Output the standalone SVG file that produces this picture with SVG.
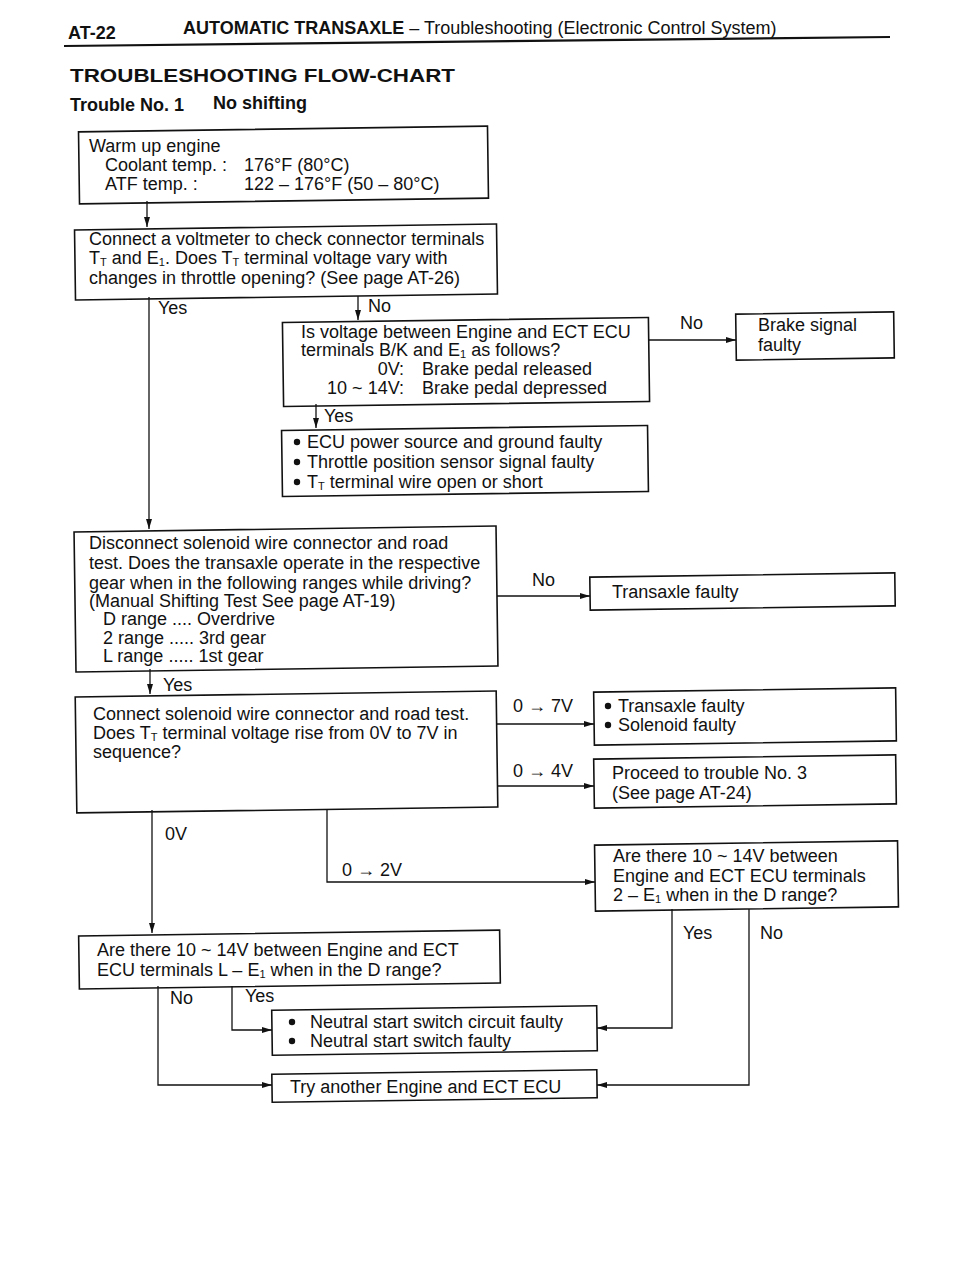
<svg xmlns="http://www.w3.org/2000/svg" width="960" height="1280" viewBox="0 0 960 1280">
<style>
.t{font-family:"Liberation Sans",Arial,Helvetica,sans-serif;font-size:18px;fill:#111}
.b{font-weight:bold}
.box{fill:none;stroke:#111;stroke-width:1.6}
.ln{fill:none;stroke:#111;stroke-width:1.3}
.s{font-size:11px}
</style>
<defs>
<marker id="ar" viewBox="0 0 10 6" refX="10" refY="3" markerWidth="10" markerHeight="6" markerUnits="userSpaceOnUse" orient="auto">
<path d="M0,0 L10,3 L0,6 z" fill="#111"/>
</marker>
</defs>
<rect width="960" height="1280" fill="#fff"/>
<g id="header">
<text class="t b" x="68" y="39" font-size="16">AT-22</text>
<text class="t" x="183" y="34" font-size="17"><tspan class="b">AUTOMATIC TRANSAXLE</tspan> – Troubleshooting (Electronic Control System)</text>
<line x1="64" y1="46" x2="890" y2="37" stroke="#111" stroke-width="2.2"/>
<text class="t b" x="70" y="82" font-size="24" textLength="385" lengthAdjust="spacingAndGlyphs">TROUBLESHOOTING FLOW-CHART</text>
<text class="t b" x="70" y="111" font-size="14.5">Trouble No. 1</text>
<text class="t b" x="213" y="109" font-size="15">No shifting</text>
</g>
<g id="connectors">
<line class="ln" x1="147" y1="201" x2="147" y2="227" marker-end="url(#ar)"/>
<line class="ln" x1="149" y1="297" x2="149" y2="529" marker-end="url(#ar)"/>
<line class="ln" x1="358" y1="296" x2="358" y2="320" marker-end="url(#ar)"/>
<line class="ln" x1="649" y1="340" x2="736" y2="340" marker-end="url(#ar)"/>
<line class="ln" x1="316" y1="404" x2="316" y2="428" marker-end="url(#ar)"/>
<line class="ln" x1="497" y1="596" x2="590" y2="596" marker-end="url(#ar)"/>
<line class="ln" x1="150" y1="669" x2="150" y2="694" marker-end="url(#ar)"/>
<line class="ln" x1="497" y1="724" x2="594" y2="724" marker-end="url(#ar)"/>
<line class="ln" x1="497" y1="786" x2="594" y2="786" marker-end="url(#ar)"/>
<line class="ln" x1="152" y1="810" x2="152" y2="933" marker-end="url(#ar)"/>
<polyline class="ln" points="327,810 327,882 595,882" marker-end="url(#ar)"/>
<polyline class="ln" points="672,909 672,1028 597,1028" marker-end="url(#ar)"/>
<polyline class="ln" points="749,909 749,1085 597,1085" marker-end="url(#ar)"/>
<polyline class="ln" points="158,986 158,1085 272,1085" marker-end="url(#ar)"/>
<polyline class="ln" points="232,986 232,1030 272,1030" marker-end="url(#ar)"/>
<text class="t" x="158" y="314">Yes</text>
<text class="t" x="368" y="312">No</text>
<text class="t" x="680" y="329">No</text>
<text class="t" x="324" y="422">Yes</text>
<text class="t" x="532" y="586">No</text>
<text class="t" x="163" y="691">Yes</text>
<text class="t" x="513" y="712">0 → 7V</text>
<text class="t" x="513" y="777">0 → 4V</text>
<text class="t" x="165" y="840">0V</text>
<text class="t" x="342" y="876">0 → 2V</text>
<text class="t" x="683" y="939">Yes</text>
<text class="t" x="760" y="939">No</text>
<text class="t" x="170" y="1004">No</text>
<text class="t" x="245" y="1002">Yes</text>
</g>
<g id="warmup">
<rect class="box" x="79" y="129" width="409" height="72" transform="rotate(-0.8 283 165)"/>
<text class="t" x="89" y="152">Warm up engine</text>
<text class="t" x="105" y="171">Coolant temp. :</text>
<text class="t" x="244" y="171">176°F (80°C)</text>
<text class="t" x="105" y="190">ATF temp. :</text>
<text class="t" x="244" y="190">122 – 176°F (50 – 80°C)</text>
</g>
<g id="voltmeter">
<rect class="box" x="75" y="227" width="422" height="70" transform="rotate(-0.8 286 262)"/>
<text class="t" x="89" y="245">Connect a voltmeter to check connector terminals</text>
<text class="t" x="89" y="264">T<tspan class="s" dy="2">T</tspan><tspan dy="-2"> and E</tspan><tspan class="s" dy="2">1</tspan><tspan dy="-2">. Does T</tspan><tspan class="s" dy="2">T</tspan><tspan dy="-2"> terminal voltage vary with</tspan></text>
<text class="t" x="89" y="284">changes in throttle opening? (See page AT-26)</text>
</g>
<g id="bkvoltage">
<rect class="box" x="283" y="320" width="366" height="84" transform="rotate(-0.8 466 362)"/>
<text class="t" x="301" y="338">Is voltage between Engine and ECT ECU</text>
<text class="t" x="301" y="356">terminals B/K and E<tspan class="s" dy="2">1</tspan><tspan dy="-2"> as follows?</tspan></text>
<text class="t" x="404" y="375" text-anchor="end">0V:</text>
<text class="t" x="422" y="375">Brake pedal released</text>
<text class="t" x="404" y="394" text-anchor="end">10 ~ 14V:</text>
<text class="t" x="422" y="394">Brake pedal depressed</text>
</g>
<g id="brake">
<rect class="box" x="736" y="313" width="158" height="46" transform="rotate(-0.8 815 336)"/>
<text class="t" x="758" y="331">Brake signal</text>
<text class="t" x="758" y="351">faulty</text>
</g>
<g id="ecupower">
<rect class="box" x="282" y="428" width="366" height="66" transform="rotate(-0.8 465 461)"/>
<circle cx="297" cy="442" r="3.2" fill="#111"/>
<text class="t" x="307" y="448">ECU power source and ground faulty</text>
<circle cx="297" cy="462" r="3.2" fill="#111"/>
<text class="t" x="307" y="468">Throttle position sensor signal faulty</text>
<circle cx="297" cy="482" r="3.2" fill="#111"/>
<text class="t" x="307" y="488">T<tspan class="s" dy="2">T</tspan><tspan dy="-2"> terminal wire open or short</tspan></text>
</g>
<g id="disconnect">
<rect class="box" x="75" y="529" width="422" height="140" transform="rotate(-0.8 286 599)"/>
<text class="t" x="89" y="549">Disconnect solenoid wire connector and road</text>
<text class="t" x="89" y="569">test. Does the transaxle operate in the respective</text>
<text class="t" x="89" y="589">gear when in the following ranges while driving?</text>
<text class="t" x="89" y="607">(Manual Shifting Test   See page AT-19)</text>
<text class="t" x="103" y="625">D range  ....  Overdrive</text>
<text class="t" x="103" y="644">2 range  .....  3rd gear</text>
<text class="t" x="103" y="662">L range  .....  1st gear</text>
</g>
<g id="transaxle">
<rect class="box" x="590" y="575" width="305" height="33" transform="rotate(-0.8 742 591)"/>
<text class="t" x="612" y="598">Transaxle faulty</text>
</g>
<g id="connectsol">
<rect class="box" x="76" y="694" width="421" height="116" transform="rotate(-0.8 286 752)"/>
<text class="t" x="93" y="720">Connect solenoid wire connector and road test.</text>
<text class="t" x="93" y="739">Does T<tspan class="s" dy="2">T</tspan><tspan dy="-2"> terminal voltage rise from 0V to 7V in</tspan></text>
<text class="t" x="93" y="758">sequence?</text>
</g>
<g id="solfaulty">
<rect class="box" x="594" y="690" width="302" height="53" transform="rotate(-0.8 745 716)"/>
<circle cx="608" cy="706" r="3.2" fill="#111"/>
<text class="t" x="618" y="712">Transaxle faulty</text>
<circle cx="608" cy="725" r="3.2" fill="#111"/>
<text class="t" x="618" y="731">Solenoid faulty</text>
</g>
<g id="proceed">
<rect class="box" x="594" y="757" width="302" height="49" transform="rotate(-0.8 745 781)"/>
<text class="t" x="612" y="779">Proceed to trouble No. 3</text>
<text class="t" x="612" y="799">(See page AT-24)</text>
</g>
<g id="check2">
<rect class="box" x="595" y="843" width="303" height="66" transform="rotate(-0.8 746 876)"/>
<text class="t" x="613" y="862">Are there 10 ~ 14V between</text>
<text class="t" x="613" y="882">Engine and ECT ECU terminals</text>
<text class="t" x="613" y="901">2 – E<tspan class="s" dy="2">1</tspan><tspan dy="-2"> when in the D range?</tspan></text>
</g>
<g id="checkL">
<rect class="box" x="79" y="933" width="421" height="53" transform="rotate(-0.8 290 960)"/>
<text class="t" x="97" y="956">Are there 10 ~ 14V between Engine and ECT</text>
<text class="t" x="97" y="976">ECU terminals L – E<tspan class="s" dy="2">1</tspan><tspan dy="-2"> when in the D range?</tspan></text>
</g>
<g id="neutral">
<rect class="box" x="272" y="1008" width="325" height="45" transform="rotate(-0.8 435 1030)"/>
<circle cx="292" cy="1022" r="3.2" fill="#111"/>
<text class="t" x="310" y="1028">Neutral start switch circuit faulty</text>
<circle cx="292" cy="1041" r="3.2" fill="#111"/>
<text class="t" x="310" y="1047">Neutral start switch faulty</text>
</g>
<g id="tryecu">
<rect class="box" x="272" y="1072" width="325" height="28" transform="rotate(-0.8 435 1086)"/>
<text class="t" x="290" y="1093">Try another Engine and ECT ECU</text>
</g>
</svg>
